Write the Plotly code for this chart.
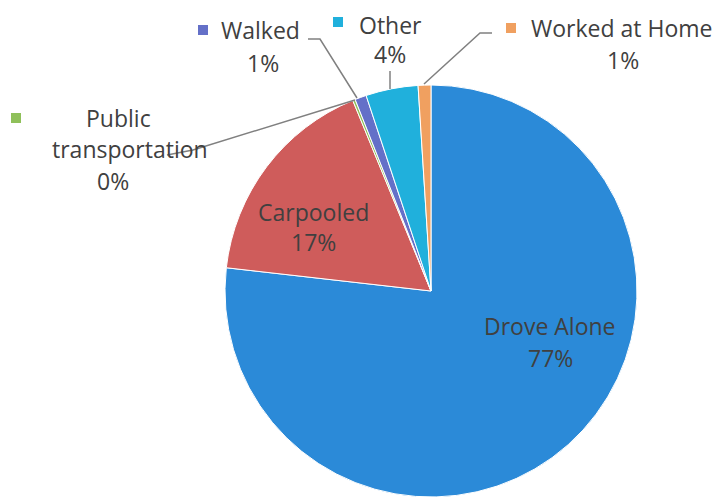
import plotly.graph_objects as go

categories = ["Drove Alone", "Carpooled", "Public transportation", "Walked", "Other", "Worked at Home"]
values = [76.8, 17.0, 0.2, 0.9, 4.1, 1.0]
colors = ["#2b8ad8", "#cf5c5b", "#8fc05a", "#6470c8", "#20b0dc", "#f0a060"]

OFF = 8  # page body margin
W, H = 721 - OFF, 502 - OFF
CX, CY, R = 431, 291, 206

def px(x):
    return (x - OFF) / W

def py(y):
    return 1 - (y - OFF) / H

total = sum(values)
pct = [f"{round(v / total * 100)}%" for v in values]

fig = go.Figure(go.Pie(
    labels=categories,
    values=values,
    sort=False,
    direction="clockwise",
    rotation=0,
    textinfo="none",
    hoverinfo="label+percent",
    marker=dict(colors=colors, line=dict(color="white", width=1)),
    domain=dict(x=[px(CX - R), px(CX + R)], y=[py(CY + R), py(CY - R)]),
    showlegend=False,
))

FONT = dict(family="Open Sans, sans-serif", size=23, color="#404040")

# label lines: (category index, line text, x, y, xanchor)
label_lines = [
    (0, categories[0], 550, 326, "center"),
    (0, pct[0], 550, 358, "center"),
    (1, categories[1], 313, 212, "center"),
    (1, pct[1], 313, 242, "center"),
    (2, "Public", 118, 118, "center"),
    (2, "transportation", 130, 149, "center"),
    (2, pct[2], 113, 181, "center"),
    (3, categories[3], 220, 30, "left"),
    (3, pct[3], 263, 63, "center"),
    (4, categories[4], 358, 25, "left"),
    (4, pct[4], 390, 54, "center"),
    (5, categories[5], 530, 28, "left"),
    (5, pct[5], 623, 60, "center"),
]
for _, txt, x, y, xa in label_lines:
    fig.add_annotation(x=px(x), y=py(y), xref="paper", yref="paper", text=txt,
                       showarrow=False, xanchor=xa, yanchor="middle", font=FONT,
                       borderpad=0)

# legend keys next to outside labels
keys = [(2, 16, 118), (3, 203, 30), (4, 338, 22), (5, 511, 28)]
for idx, x, y in keys:
    s = 5
    fig.add_shape(type="rect", xref="paper", yref="paper",
                  x0=px(x - s), x1=px(x + s), y0=py(y + s), y1=py(y - s),
                  fillcolor=colors[idx], line=dict(width=0))

# leader lines
leaders = [
    [(308, 39), (320, 39), (357, 98)],
    [(390, 71), (390, 89)],
    [(492, 33), (480, 33), (424, 84)],
    [(167, 155), (193, 150), (355, 100)],
]
for pts in leaders:
    path = "M " + " L ".join(f"{px(x)},{py(y)}" for x, y in pts)
    fig.add_shape(type="path", xref="paper", yref="paper", path=path,
                  line=dict(color="#808080", width=1.5))

fig.update_layout(
    width=W, height=H,
    margin=dict(l=0, r=0, t=0, b=0),
    paper_bgcolor="white", plot_bgcolor="white",
)

fig.write_html("out.html")
